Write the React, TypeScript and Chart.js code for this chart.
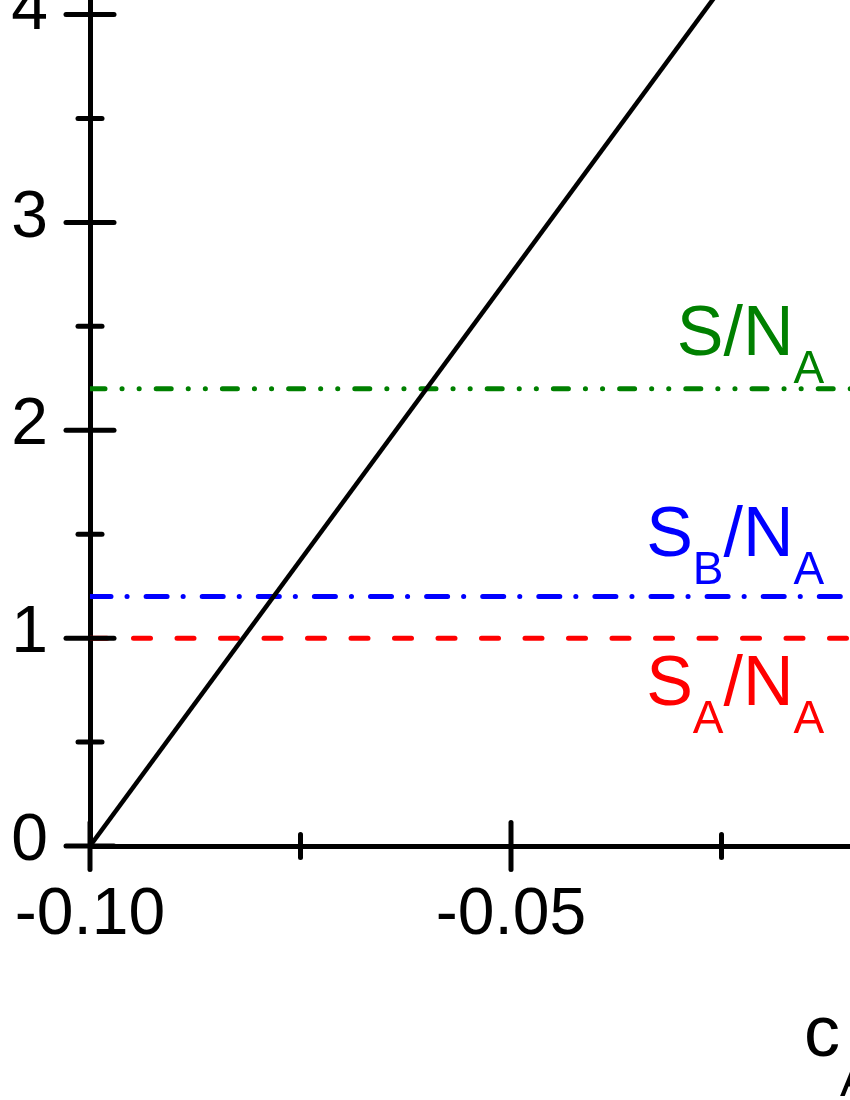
import { useEffect, useRef } from "react";
import { Chart, registerables } from "chart.js";

Chart.register(...registerables);

// ---- data ----
const X_MIN = -0.1;
const X_MAX = 0.0;
const Y_MIN = 0;
const Y_MAX = 4.07;

const X_TICKS = [-0.1, -0.075, -0.05, -0.025, 0.0];
const X_LABELS = ["-0.10", "", "-0.05", "", "0.00"];
const Y_TICKS = [0, 0.5, 1, 1.5, 2, 2.5, 3, 3.5, 4];
const Y_LABELS = ["0", "", "1", "", "2", "", "3", "", "4"];

// black curve (linear)
const curveX = [-0.1, 0.0];
const curveY = [0, 5.505];

// horizontal reference levels
const levelNames = ["S/NA", "SB/NA", "SA/NA"];
const levelValues = [2.2, 1.2, 1.0];

const FONT = "'Liberation Sans', Arial, Helvetica, sans-serif";

type Seg = { t: string; sub: boolean };
const levelLabelSegs: Seg[][] = [
  [
    { t: "S/N", sub: false },
    { t: "A", sub: true },
  ],
  [
    { t: "S", sub: false },
    { t: "B", sub: true },
    { t: "/N", sub: false },
    { t: "A", sub: true },
  ],
  [
    { t: "S", sub: false },
    { t: "A", sub: true },
    { t: "/N", sub: false },
    { t: "A", sub: true },
  ],
];
const levelColors = ["#008000", "#0000ff", "#ff0000"];
const levelDashes = [
  [15, 17, 0.1, 17, 0.1, 17],
  [21, 16, 0.1, 19],
  [17, 26.5],
];
// label baseline offset (px) from its level line, negative = above
const levelLabelOffsets = [-34, -41, 67];
const LABEL_RIGHT_VALUE = -0.0128;

const titleSegs: Seg[] = [
  { t: "c", sub: false },
  { t: "A", sub: true },
];

function drawSegs(ctx: CanvasRenderingContext2D, segs: Seg[], x: number, y: number, main: number, sub: number, subDrop: number) {
  let cx = x;
  for (const s of segs) {
    ctx.font = `${s.sub ? sub : main}px ${FONT}`;
    ctx.fillText(s.t, cx, s.sub ? y + subDrop : y);
    cx += ctx.measureText(s.t).width;
  }
}
function segsWidth(ctx: CanvasRenderingContext2D, segs: Seg[], main: number, sub: number) {
  let w = 0;
  for (const s of segs) {
    ctx.font = `${s.sub ? sub : main}px ${FONT}`;
    w += ctx.measureText(s.t).width;
  }
  return w;
}

const zeroPad = (s: any) => {
  s.paddingLeft = 0;
  s.paddingRight = 0;
  s.paddingTop = 0;
  s.paddingBottom = 0;
};

const crossTicksPlugin = {
  id: "crossTicks",
  afterDraw(chart: any) {
    const { ctx, chartArea } = chart;
    const xs = chart.scales.x;
    const ys = chart.scales.y;
    ctx.save();
    ctx.strokeStyle = "#000";
    ctx.lineWidth = 5;
    ctx.lineCap = "round";
    xs.ticks.forEach((t: any, i: number) => {
      const px = xs.getPixelForValue(t.value);
      const h = X_LABELS[i] ? 23.5 : 11.5;
      ctx.beginPath();
      ctx.moveTo(px, chartArea.bottom - h);
      ctx.lineTo(px, chartArea.bottom + h);
      ctx.stroke();
    });
    ys.ticks.forEach((t: any, i: number) => {
      const py = ys.getPixelForValue(t.value);
      const h = Y_LABELS[i] ? 24 : 12;
      ctx.beginPath();
      ctx.moveTo(chartArea.left - h, py);
      ctx.lineTo(chartArea.left + h, py);
      ctx.stroke();
    });

    // level labels
    ctx.textBaseline = "alphabetic";
    ctx.textAlign = "left";
    const rightPx = xs.getPixelForValue(LABEL_RIGHT_VALUE);
    levelValues.forEach((v, i) => {
      const segs = levelLabelSegs[i];
      const w = segsWidth(ctx, segs, 70, 46);
      const base = ys.getPixelForValue(v) + levelLabelOffsets[i];
      ctx.fillStyle = levelColors[i];
      drawSegs(ctx, segs, rightPx - w, base, 70, 46, 28);
    });

    // axis title
    ctx.fillStyle = "#000";
    const titleX = xs.getPixelForValue(-0.0152);
    drawSegs(ctx, titleSegs, titleX, chartArea.bottom + 210, 72, 48, 40);
    ctx.restore();
  },
};

export default function App() {
  const ref = useRef<HTMLCanvasElement | null>(null);
  useEffect(() => {
    const canvas = ref.current;
    if (!canvas) return;
    const datasets: any[] = [
      {
        label: "curve",
        data: curveX.map((x, i) => ({ x, y: curveY[i] })),
        borderColor: "#000",
        borderWidth: 4.5,
        pointRadius: 0,
        fill: false,
        tension: 0,
      },
      ...levelValues.map((v, i) => ({
        label: levelNames[i],
        data: [
          { x: X_MIN, y: v },
          { x: X_MAX, y: v },
        ],
        borderColor: levelColors[i],
        borderWidth: 5,
        borderDash: levelDashes[i],
        borderCapStyle: "round",
        pointRadius: 0,
        fill: false,
      })),
    ];
    const chart = new Chart(canvas, {
      type: "line",
      data: { datasets },
      options: {
        animation: false,
        responsive: false,
        devicePixelRatio: 1,
        layout: { autoPadding: false, padding: { left: 0, top: 0, right: 8, bottom: 0 } },
        plugins: { legend: { display: false }, tooltip: { enabled: false } },
        scales: {
          x: {
            type: "linear",
            min: X_MIN,
            max: X_MAX,
            afterFit: (s: any) => {
              s.height = 254;
              zeroPad(s);
            },
            afterBuildTicks: (s: any) => {
              s.ticks = X_TICKS.map((value) => ({ value }));
            },
            grid: { display: false, drawTicks: false },
            border: { display: true, color: "#000", width: 5 },
            ticks: {
              autoSkip: false,
              maxRotation: 0,
              padding: 30,
              color: "#000",
              font: { family: FONT, size: 66 },
              callback: (_v: any, i: number) => X_LABELS[i],
            },
          },
          y: {
            type: "linear",
            min: Y_MIN,
            max: Y_MAX,
            afterFit: (s: any) => {
              s.width = 90;
              zeroPad(s);
            },
            afterBuildTicks: (s: any) => {
              s.ticks = Y_TICKS.map((value) => ({ value }));
            },
            grid: { display: false, drawTicks: false },
            border: { display: true, color: "#000", width: 5 },
            ticks: {
              autoSkip: false,
              padding: 42,
              labelOffset: -4,
              color: "#000",
              font: { family: FONT, size: 66 },
              callback: (_v: any, i: number) => Y_LABELS[i],
            },
          },
        },
      },
      plugins: [crossTicksPlugin],
    } as any);
    return () => chart.destroy();
  }, []);

  return (
    <div
      style={{
        position: "fixed",
        left: 0,
        top: 0,
        width: 850,
        height: 1100,
        overflow: "hidden",
        background: "#fff",
      }}
    >
      <canvas ref={ref} width={940} height={1100} style={{ display: "block" }} />
    </div>
  );
}
